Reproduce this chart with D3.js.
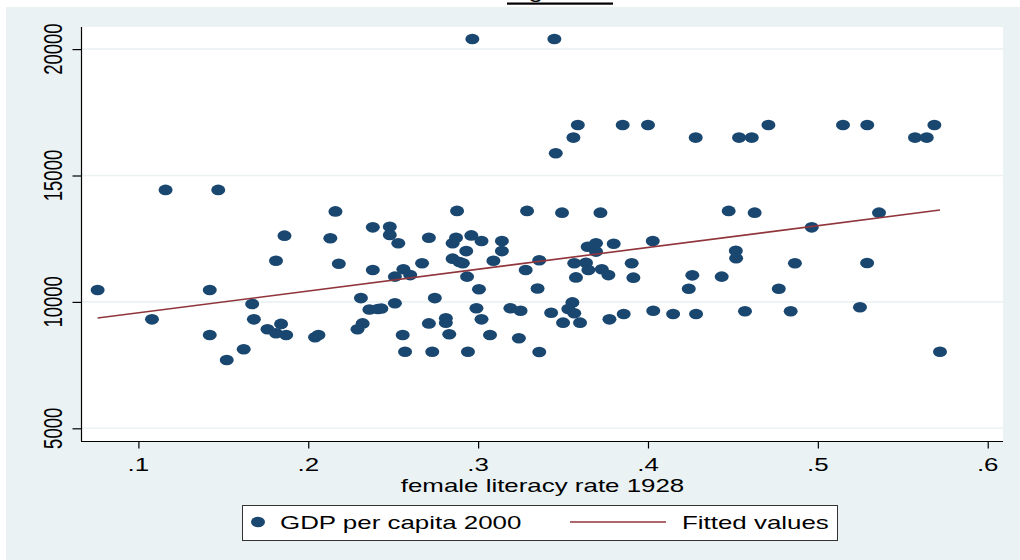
<!DOCTYPE html>
<html>
<head>
<meta charset="utf-8">
<script src="https://cdn.jsdelivr.net/npm/d3@7"></script>
<style>
  html, body { margin: 0; padding: 0; background: #ffffff; }
  svg { display: block; }
  text { font-family: "Liberation Sans", Arial, Helvetica, sans-serif; fill: #000; }
</style>
</head>
<body>
<svg id="chart" width="1020" height="560"></svg>
<script>
// Female literacy rate in 1928 (x) and GDP per capita in 2000 (y), one entry per unit
const literacy = [
  0.076, 0.108, 0.116, 0.142, 0.142, 0.147, 0.152, 0.162, 0.167, 0.168,
  0.176, 0.181, 0.181, 0.184, 0.186, 0.187, 0.204, 0.206, 0.213, 0.216,
  0.218, 0.229, 0.231, 0.232, 0.236, 0.238, 0.238, 0.241, 0.243, 0.248,
  0.248, 0.251, 0.251, 0.253, 0.256, 0.2556, 0.257, 0.260, 0.267, 0.271,
  0.271, 0.273, 0.2745, 0.281, 0.281, 0.283, 0.285, 0.285, 0.287, 0.2876,
  0.289, 0.291, 0.293, 0.2935, 0.294, 0.296, 0.2966, 0.299, 0.3005, 0.302,
  0.302, 0.307, 0.309, 0.314, 0.314, 0.319, 0.324, 0.325, 0.328, 0.3288,
  0.335, 0.336, 0.336, 0.343, 0.3449, 0.3457, 0.3494, 0.350, 0.3531, 0.3555,
  0.3561, 0.3566, 0.3566, 0.3576, 0.3587, 0.360, 0.3635, 0.3645, 0.3649, 0.3694,
  0.3694, 0.372, 0.3728, 0.3767, 0.3773, 0.3798, 0.3851, 0.3857, 0.3904, 0.3914,
  0.400, 0.4028, 0.4031, 0.4148, 0.424, 0.4261, 0.4281, 0.4283, 0.4434, 0.4475,
  0.4517, 0.4519, 0.4536, 0.4571, 0.4611, 0.4628, 0.4709, 0.477, 0.484, 0.4865,
  0.4964, 0.5148, 0.5248, 0.529, 0.5291, 0.536, 0.5572, 0.5641, 0.5686, 0.5719
];
const gdp = [
  10470, 9310, 14430, 10470, 8690, 14430, 7700, 8125, 9920, 9310,
  8920, 8760, 11630, 9130, 12620, 8690, 8600, 8690, 12520, 13580,
  11510, 8920, 10150, 9150, 9700, 12950, 11260, 9720, 9740, 12975,
  12650, 11000, 9945, 12320, 11290, 8690, 8030, 11060, 11530, 12540,
  9150, 8030, 10150, 9350, 9180, 8720, 11710, 12320, 12540, 13600,
  11580, 11530, 12010, 11000, 8030, 12630, 20400, 9750, 10500, 12410,
  9310, 8690, 11630, 12410, 12010, 9750, 8560, 9650, 11260, 13600,
  10530, 11650, 8020, 9570, 20400, 15880, 13530, 9180, 9720, 9980,
  16500, 11530, 9550, 10970, 17000, 9180, 11550, 12180, 11260, 12320,
  11990, 13530, 11290, 11060, 9310, 12300, 17000, 9520, 11530, 10960,
  17000, 12410, 9650, 9520, 10520, 11050, 16500, 9520, 11000, 13600,
  12020, 11730, 16500, 9630, 16500, 13530, 17000, 10520, 9630, 11530,
  12950, 17000, 9790, 11540, 17000, 13530, 16500, 16500, 17000, 8030
];

// fitted values of the linear trend at the lowest and highest literacy rate
const fittedGdp = [9363, 13635];

const xTicks = [0.1, 0.2, 0.3, 0.4, 0.5, 0.6];
const yTicks = [5000, 10000, 15000, 20000];
const xTitle = "female literacy rate 1928";
const legendLabels = ["GDP per capita 2000", "Fitted values"];
const chartTitle = "Figure 1";

const colors = { bg: "#eaf2f3", dot: "#1a476f", fit: "#90353b", grid: "#eaf2f3" };
const stretch = 1.4;      // horizontal widening of all lettering
const fontSize = 18.5;

const svg = d3.select("#chart");
const plot = { left: 82, right: 1003, top: 27, bottom: 441 };

const x = d3.scaleLinear().domain([0.0668, 0.609]).range([plot.left, plot.right]);
const y = d3.scaleLinear().domain([4498, 20874]).range([plot.bottom, plot.top]);

// outer graph region
svg.append("rect").attr("x", 6).attr("y", 7).attr("width", 1014).attr("height", 553)
  .attr("fill", colors.bg);

// title sitting above the visible area; only its descender and rule show
const tg = svg.append("g").attr("transform", `translate(507,-2) scale(${stretch},1)`);
tg.append("text").attr("x", 0).attr("y", 0).style("font-size", fontSize + "px")
  .text(chartTitle);
svg.append("rect").attr("x", 507).attr("y", 2.5).attr("width", 106).attr("height", 2.2).attr("fill", "#000");

// plot region
svg.append("rect").attr("x", plot.left).attr("y", plot.top)
  .attr("width", plot.right - plot.left).attr("height", plot.bottom - plot.top)
  .attr("fill", "#ffffff");

// horizontal grid lines
svg.append("g").selectAll("line").data(yTicks).join("line")
  .attr("x1", plot.left).attr("x2", plot.right)
  .attr("y1", d => y(d)).attr("y2", d => y(d))
  .attr("stroke", colors.grid).attr("stroke-width", 1.6);

const n = literacy.length;
const [xmin, xmax] = d3.extent(literacy);
const fitted = [[xmin, fittedGdp[0]], [xmax, fittedGdp[1]]];

// scatter points
svg.append("g").selectAll("ellipse").data(d3.range(n)).join("ellipse")
  .attr("cx", i => x(literacy[i])).attr("cy", i => y(gdp[i]))
  .attr("rx", 7).attr("ry", 5.3)
  .attr("fill", colors.dot);

// fitted line
svg.append("path").datum(fitted)
  .attr("d", d3.line().x(d => x(d[0])).y(d => y(d[1])))
  .attr("fill", "none").attr("stroke", colors.fit).attr("stroke-width", 1.6);

// y axis
const yAxis = svg.append("g").attr("transform", `translate(${plot.left - 0.5},0)`)
  .call(d3.axisLeft(y).tickValues(yTicks).tickSize(9).tickFormat(""));
yAxis.select(".domain").attr("d", `M0,${plot.top}V${plot.bottom}`).attr("stroke", "#000").attr("stroke-width", 1.2);
yAxis.selectAll(".tick line").attr("stroke", "#000").attr("stroke-width", 1.2);
svg.append("g").selectAll("g").data(yTicks).join("g")
  .attr("transform", d => `translate(62,${y(d)}) scale(${stretch},1) rotate(-90)`)
  .append("text").attr("text-anchor", "middle").style("font-size", fontSize + "px")
  .text(d => d3.format("d")(d));

// x axis
const xAxis = svg.append("g").attr("transform", `translate(0,${plot.bottom + 0.5})`)
  .call(d3.axisBottom(x).tickValues(xTicks).tickSize(7).tickFormat(""));
xAxis.select(".domain").attr("d", `M${plot.left - 1},0H${plot.right}`).attr("stroke", "#000").attr("stroke-width", 1.2);
xAxis.selectAll(".tick line").attr("stroke", "#000").attr("stroke-width", 1.2);
svg.append("g").selectAll("g").data(xTicks).join("g")
  .attr("transform", d => `translate(${x(d)},471) scale(${stretch},1)`)
  .append("text").attr("text-anchor", "middle").style("font-size", fontSize + "px")
  .text(d => d3.format(".1f")(d).replace(/^0/, ""));

svg.append("g").attr("transform", `translate(${(plot.left + plot.right) / 2},492) scale(${stretch},1)`)
  .append("text").attr("text-anchor", "middle").style("font-size", fontSize + "px")
  .text(xTitle);

// legend
const lg = svg.append("g");
lg.append("rect").attr("x", 242.5).attr("y", 505.5).attr("width", 595).attr("height", 35)
  .attr("fill", "#fff").attr("stroke", "#333").attr("stroke-width", 1);
lg.append("ellipse").attr("cx", 258).attr("cy", 522).attr("rx", 7).attr("ry", 5.3).attr("fill", colors.dot);
lg.append("g").attr("transform", `translate(280,529) scale(${stretch},1)`)
  .append("text").style("font-size", fontSize + "px").text(legendLabels[0]);
lg.append("line").attr("x1", 570).attr("x2", 666).attr("y1", 522).attr("y2", 522)
  .attr("stroke", colors.fit).attr("stroke-width", 1.6);
lg.append("g").attr("transform", `translate(682,529) scale(${stretch},1)`)
  .append("text").style("font-size", fontSize + "px").text(legendLabels[1]);
</script>
</body>
</html>
